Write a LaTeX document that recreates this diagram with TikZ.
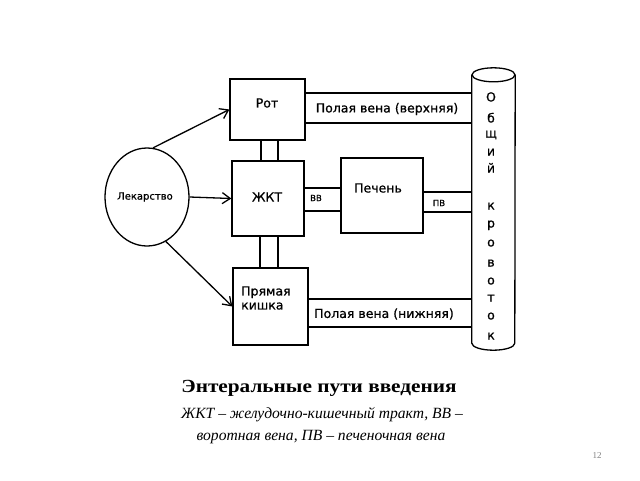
\documentclass[tikz,border=0pt]{standalone}
\usepackage{fontspec}
\setmainfont{Liberation Serif}
\newfontfamily\diag[FakeBold=0.8]{DejaVu Sans}
\usetikzlibrary{shapes.geometric,arrows.meta}
\begin{document}
\begin{tikzpicture}[x=1pt,y=-1pt,
  box/.style={draw,line width=1.3pt,inner sep=0pt},
  lbl/.style={font=\diag\fontsize{12.5}{14}\selectfont,inner sep=0pt},
  small/.style={font=\diag\fontsize{8.5}{10}\selectfont,inner sep=0pt},
  ln/.style={line width=1.3pt},
  arr/.style={line width=1.3pt,-{Straight Barb[length=8pt,width=11pt,line width=1.3pt]}},
  captext/.style={inner sep=0pt,anchor=base}]
\useasboundingbox[fill=white] (0,0) rectangle (640,480);
% boxes
\node[box,minimum width=75pt,minimum height=61pt] (rot) at (267.5,109.5) {};
\node[box,minimum width=72pt,minimum height=75pt] (zhkt) at (268,198.5) {};
\node[box,minimum width=75pt,minimum height=77pt] (kish) at (270.5,306.5) {};
\node[box,minimum width=82pt,minimum height=75pt] (pech) at (382,195.5) {};
\node[box,ellipse,minimum width=84pt,minimum height=98pt] (lek) at (147,197) {};
\node[minimum width=43pt,minimum height=268pt,inner sep=0pt] (cyl) at (493.5,209) {};
% labels inside
\node[lbl] (trot) at (267,103) {Рот};
\node[lbl] (tzhkt) at (267,197) {ЖКТ};
\node[lbl,anchor=west,align=left] (tkish) at (241,298) {Прямая\\кишка};
\node[lbl] (tpech) at (378,188) {Печень};
\node[font=\diag\fontsize{10}{12}\selectfont,inner sep=0pt] (tlek) at (145,197) {Лекарство};
% cylinder
\draw[ln] (cyl.north west) -- (cyl.south west) arc[start angle=180,end angle=360,x radius=21.5pt,y radius=7pt] -- (cyl.north east);
\draw[ln] (cyl.north) ellipse[x radius=21.5pt,y radius=7pt];
\foreach \ch/\yy [count=\i] in {О/97,б/118,щ/133,и/151,й/168,к/205,р/223,о/242,в/262,о/280,т/297,о/315,к/335}
  \node[lbl,anchor=base] (c\i) at (491,\yy+4.5) {\ch};
% arrows
\draw[arr] (lek.83) -- (rot.west);
\draw[arr] (lek.east) -- (zhkt.west);
\draw[arr] (lek.-67) -- (kish.west);
% vertical connectors
\coordinate (v1) at ([xshift=-6.5pt]rot.south);
\coordinate (v2) at ([xshift=10.5pt]rot.south);
\draw[ln] (v1) -- (v1 |- zhkt.north);
\draw[ln] (v2) -- (v2 |- zhkt.north);
\coordinate (v3) at ([xshift=-8pt]zhkt.south);
\coordinate (v4) at ([xshift=10pt]zhkt.south);
\draw[ln] (v3) -- (v3 |- kish.north);
\draw[ln] (v4) -- (v4 |- kish.north);
% top vein band
\coordinate (t1) at ([yshift=16.5pt]rot.east);
\coordinate (t2) at ([yshift=-13.5pt]rot.east);
\draw[ln] (t1) -- (t1 -| cyl.west);
\draw[ln] (t2) -- (t2 -| cyl.west);
\node[lbl] (ttop) at (387,109) {Полая вена (верхняя)};
% bottom vein band
\coordinate (b1) at ([yshift=7.5pt]kish.east);
\coordinate (b2) at ([yshift=-20.5pt]kish.east);
\draw[ln] (b1) -- (b1 -| cyl.west);
\draw[ln] (b2) -- (b2 -| cyl.west);
\node[lbl] (tbot) at (384,314) {Полая вена (нижняя)};
% VV band
\coordinate (w1) at ([yshift=10.5pt]zhkt.east);
\coordinate (w2) at ([yshift=-12.5pt]zhkt.east);
\draw[ln] (w1) -- (w1 -| pech.west);
\draw[ln] (w2) -- (w2 -| pech.west);
\node[small] (tvv) at (316,198) {ВВ};
% PV band
\coordinate (p1) at ([yshift=3.5pt]pech.east);
\coordinate (p2) at ([yshift=-16.5pt]pech.east);
\draw[ln] (p1) -- (p1 -| cyl.west);
\draw[ln] (p2) -- (p2 -| cyl.west);
\node[small] (tpv) at (439,203) {ПВ};
% caption
\node[captext,font=\bfseries\fontsize{18.5}{22}\selectfont] (c1) at (319,392) {\scalebox{1.15}[1]{Энтеральные пути введения}};
\node[captext,font=\itshape\fontsize{15.6}{22}\selectfont] (c2) at (322,418) {ЖКТ – желудочно-кишечный тракт, ВВ –};
\node[captext,font=\itshape\fontsize{15.6}{22}\selectfont] (c3) at (321,440) {воротная вена, ПВ – печеночная вена};
\node[font=\fontsize{9}{10}\selectfont,text=gray,inner sep=0pt] (pg) at (597,456) {12};
\end{tikzpicture}
\end{document}
